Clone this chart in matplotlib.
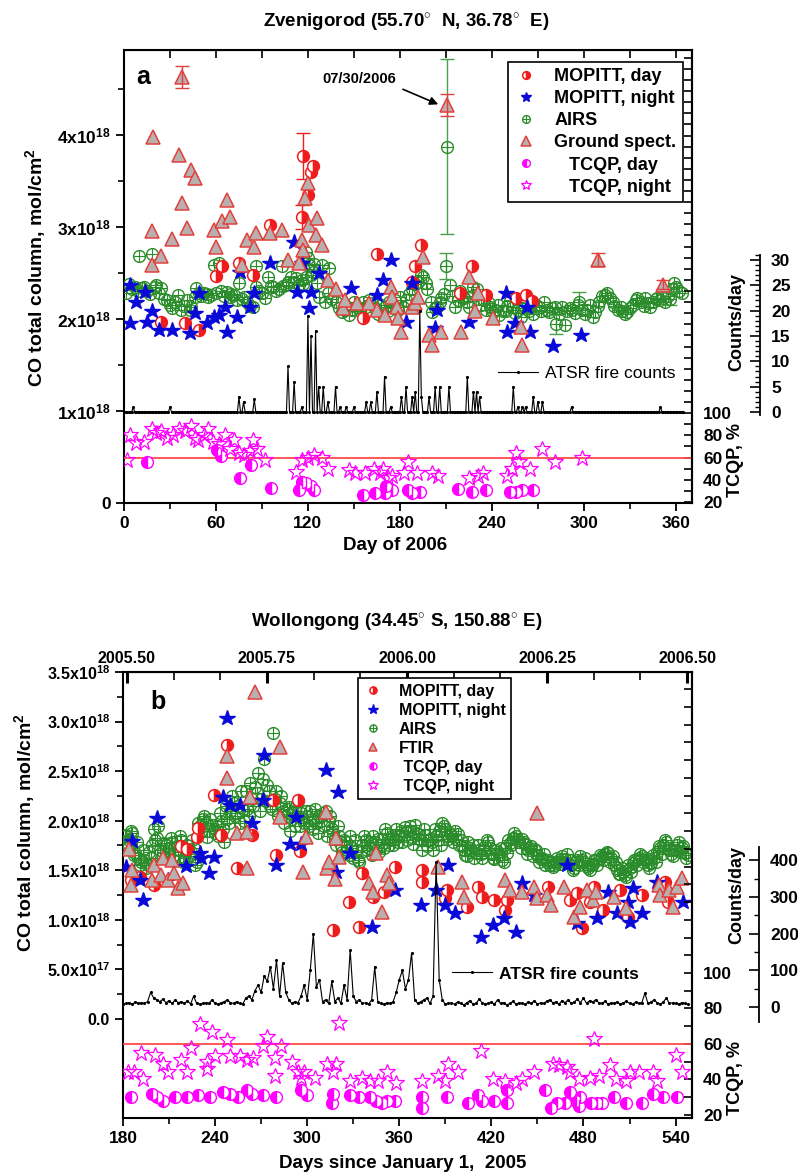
import numpy as np
import matplotlib
matplotlib.use('Agg')
import matplotlib.pyplot as plt
from matplotlib.ticker import FixedLocator, MultipleLocator, FormatStrFormatter

plt.rcParams['font.family'] = ['Liberation Sans', 'DejaVu Sans']
plt.rcParams['font.weight'] = 'bold'
plt.rcParams['mathtext.fontset'] = 'custom'
plt.rcParams['mathtext.rm'] = 'Liberation Sans:bold'
plt.rcParams['mathtext.bf'] = 'Liberation Sans:bold'
plt.rcParams['mathtext.it'] = 'Liberation Sans:bold'
plt.rcParams['mathtext.default'] = 'rm'

# ---------------- panel a : Zvenigorod 2006 (CO in 1e18 mol/cm2) ----------------
gs_day = [18, 18, 19, 24, 31, 36, 38, 38, 41, 44, 46, 59, 60, 64, 67, 69, 77, 80, 85, 86,
          95, 103, 107, 114, 116, 117, 118, 120, 121, 125, 126, 129, 133, 138, 143, 144, 152, 160, 165, 170,
          174, 175, 178, 179, 181, 188, 190, 192, 195, 199, 201, 207, 211, 220, 225, 229, 231, 241, 259, 260,
          309, 352]
gs_val = [2.59, 2.95, 3.97, 2.68, 2.87, 3.78, 4.63, 3.26, 2.99, 3.62, 3.53, 2.97, 2.78, 3.06, 3.29, 3.11, 2.59, 2.86, 2.78, 2.93,
          2.93, 2.97, 2.64, 2.61, 2.86, 2.75, 3.31, 3.48, 3.02, 2.91, 3.10, 2.80, 2.42, 2.32, 2.12, 2.21, 2.17, 2.17, 2.10, 2.04,
          2.35, 2.24, 2.13, 2.01, 1.86, 2.13, 2.17, 2.24, 2.67, 1.83, 1.72, 1.86, 4.32, 1.86, 2.45, 2.08, 2.28, 2.01, 1.91, 1.72,
          2.64, 2.37]
gs_err_day = [38, 211, 309, 352]
gs_err_val = [4.63, 4.32, 2.64, 2.37]
gs_err = [0.12, 0.12, 0.07, 0.05]

md_day = [24, 40, 49, 60, 64, 75, 84, 95, 116, 117, 120, 122, 123, 156, 165, 188, 190, 194, 219, 227, 236, 256, 262, 266]
md_val = [1.97, 1.96, 1.88, 2.47, 2.57, 2.61, 2.48, 3.02, 3.11, 3.77, 3.34, 3.60, 3.66, 2.01, 2.70, 2.40, 2.57, 2.80,
          2.28, 2.57, 2.26, 2.23, 2.26, 2.19]
md_err_day = [117, 116]
md_err_val = [3.77, 3.11]
md_err = [0.25, 0.13]

mn_day = [4, 4, 8, 14, 15, 18, 23, 31, 43, 46, 49, 54, 59, 62, 66, 67, 74, 76, 82, 85,
          95, 111, 113, 116, 121, 122, 127, 148, 165, 169, 174, 184, 188, 203, 204, 225, 249, 250, 255, 263,
          265, 280, 298]
mn_val = [2.37, 1.96, 2.18, 2.29, 1.97, 2.08, 1.88, 1.88, 1.85, 2.06, 2.28, 1.96, 2.02, 2.04, 2.13, 1.86, 2.02, 2.51, 2.13, 2.28,
          2.61, 2.84, 2.29, 2.61, 2.12, 2.29, 2.50, 2.34, 2.26, 2.42, 2.64, 1.97, 2.39, 1.90, 2.10, 1.97, 2.28, 1.86, 1.96, 2.13,
          1.86, 1.70, 1.83]

airs_day = [1, 3, 5, 7, 9, 10, 12, 13, 15, 17,
            18, 20, 21, 23, 24, 26, 28, 30, 31, 33,
            35, 37, 39, 41, 43, 44, 46, 47, 49, 50,
            52, 54, 55, 57, 59, 60, 62, 63, 65, 67,
            69, 70, 72, 74, 75, 77, 78, 80, 82, 84,
            86, 86, 88, 90, 92, 94, 96, 97, 99, 101,
            103, 104, 106, 107, 109, 111, 112, 114, 116, 117,
            119, 119, 120, 121, 122, 123, 124, 126, 127, 129,
            131, 133, 134, 136, 138, 140, 142, 144, 145, 147,
            149, 150, 152, 154, 156, 158, 160, 162, 164, 166,
            168, 170, 172, 173, 175, 177, 179, 180, 182, 184,
            186, 188, 190, 192, 194, 195, 197, 198, 200, 201,
            203, 204, 206, 207, 209, 213, 214, 216, 218, 219,
            221, 222, 224, 225, 227, 228, 230, 231, 233, 235,
            236, 238, 239, 241, 242, 244, 245, 247, 249, 250,
            252, 254, 255, 257, 259, 260, 262, 264, 265, 267,
            269, 271, 272, 274, 276, 277, 279, 281, 284, 286,
            288, 289, 291, 292, 294, 296, 299, 301, 302, 304,
            306, 307, 309, 310, 312, 314, 315, 317, 319, 320,
            322, 324, 325, 327, 328, 330, 332, 334, 335, 337,
            339, 340, 342, 343, 345, 347, 348, 350, 352, 353,
            355, 358, 359, 360, 362, 364]
airs_val = [2.28, 2.38, 2.32, 2.35, 2.30, 2.68, 2.34, 2.35, 2.30, 2.27,
            2.70, 2.35, 2.37, 2.28, 2.34, 2.22, 2.21, 2.15, 2.12, 2.18,
            2.26, 2.10, 2.14, 2.21, 2.10, 2.13, 2.24, 2.34, 2.28, 2.25,
            2.28, 2.27, 2.24, 2.26, 2.59, 2.28, 2.61, 2.30, 2.25, 2.29,
            2.24, 2.27, 2.26, 2.20, 2.39, 2.22, 2.24, 2.18, 2.14, 2.13,
            2.35, 2.57, 2.30, 2.28, 2.23, 2.45, 2.36, 2.35, 2.30, 2.32,
            2.57, 2.36, 2.37, 2.40, 2.45, 2.40, 2.44, 2.37, 2.42, 2.38,
            2.46, 2.73, 2.66, 2.59, 2.48, 2.51, 2.60, 2.39, 2.24, 2.59,
            2.18, 2.28, 2.55, 2.22, 2.18, 2.12, 2.07, 2.10, 2.14, 2.04,
            2.10, 2.18, 2.13, 2.08, 2.18, 2.13, 2.20, 2.17, 2.12, 2.05,
            2.15, 2.13, 2.08, 2.18, 2.13, 2.20, 2.10, 2.24, 2.13, 2.21,
            2.27, 2.32, 2.38, 2.40, 2.48, 2.46, 2.39, 2.32, 2.18, 2.07,
            2.12, 2.13, 2.18, 2.23, 2.27, 2.37, 2.25, 2.13, 2.20, 2.30,
            2.25, 2.23, 2.18, 2.13, 2.25, 2.35, 2.32, 2.22, 2.15, 2.20,
            2.10, 2.17, 2.13, 2.07, 2.10, 2.15, 2.04, 2.09, 2.08, 2.14,
            2.19, 2.13, 2.06, 2.10, 2.02, 2.12, 2.17, 2.08, 2.13, 2.05,
            2.15, 2.13, 2.08, 2.18, 2.10, 2.07, 2.12, 2.13, 2.05, 2.13,
            1.93, 2.08, 2.12, 2.10, 2.06, 2.15, 2.10, 2.05, 2.10, 2.15,
            2.02, 2.07, 2.14, 2.18, 2.25, 2.26, 2.28, 2.23, 2.18, 2.14,
            2.10, 2.13, 2.08, 2.05, 2.07, 2.12, 2.15, 2.20, 2.23, 2.18,
            2.14, 2.23, 2.17, 2.13, 2.18, 2.22, 2.23, 2.20, 2.23, 2.18,
            2.25, 2.32, 2.39, 2.35, 2.30, 2.28]
airs_err_day = [210, 211, 282, 297, 356]
airs_err_val = [2.57, 3.87, 1.94, 2.18, 2.22]
airs_err = [0.14, 0.95, 0.10, 0.11, 0.07]

# TCQP (%)
tn_day = [2, 4, 8, 13, 18, 21, 24, 28, 32, 36, 40, 44, 46, 48, 52, 55, 58, 62, 66, 69,
          72, 75, 78, 82, 84, 87, 92, 112, 116, 120, 124, 129, 133, 147, 151, 157, 163, 167, 169, 172,
          175, 183, 185, 191, 201, 205, 225, 231, 234, 250, 253, 256, 258, 265, 273, 281, 299]
tn_val = [58, 80, 73, 74, 86, 82, 84, 78, 80, 86, 84, 88, 78, 76, 80, 86, 74, 72, 80, 68,
          76, 64, 62, 66, 76, 68, 58, 47, 58, 60, 62, 60, 50, 49, 46, 46, 50, 46, 50, 42,
          43, 46, 56, 46, 46, 43, 42, 43, 46, 43, 50, 64, 56, 50, 68, 56, 60]
td_day = [15, 61, 63, 76, 83, 96, 114, 116, 119, 122, 124, 156, 164, 170, 171, 175, 185, 188, 193, 218,
          227, 236, 252, 256, 260, 267]
td_val = [56, 67, 61, 42, 53, 33, 31, 38, 37, 34, 31, 26, 28, 28, 34, 31, 31, 28, 29, 32,
          29, 31, 29, 29, 31, 31]

# ATSR fire counts (counts/day), days with fires; all other days are zero
fa_day = [6, 30, 75, 78, 85, 107, 111, 116, 120, 122, 125, 127, 130, 133, 138, 141, 145, 150, 158, 161,
          165, 170, 174, 181, 184, 188, 190, 193, 194, 199, 203, 206, 212, 224, 228, 230, 232, 254, 257, 260,
          262, 267, 270, 273, 292, 350]
fa_cnt = [1, 1, 3, 2, 2.5, 9, 6, 1, 19, 15, 16, 5, 5, 2, 5, 1, 1, 1, 2, 2,
          4, 7, 1, 3, 5, 3, 4, 20, 3, 3, 5, 5, 5, 7, 4, 4, 3, 5, 1, 1,
          1, 3, 2, 2, 1, 1]

# ---------------- panel b : Wollongong, days since 1 Jan 2005 ----------------
ft_day = [184, 185, 186, 199, 200, 205, 206, 209, 212, 213, 216, 219, 248, 248, 254, 261, 261, 263, 266, 282,
          282, 297, 299, 312, 313, 314, 318, 319, 321, 340, 343, 345, 349, 352, 353, 385, 401, 402, 429, 432,
          440, 448, 450, 450, 456, 459, 467, 474, 478, 482, 486, 488, 500, 508, 529, 530, 536, 538, 541, 544]
ft_val = [1.71, 1.35, 1.50, 1.40, 1.55, 1.45, 1.62, 1.40, 1.60, 1.47, 1.32, 1.37, 2.65, 2.43, 1.88, 1.89, 1.52, 2.24, 3.30, 2.74,
          2.04, 1.48, 1.84, 2.09, 1.52, 1.58, 1.41, 1.83, 1.63, 1.37, 1.28, 1.67, 1.08, 1.45, 1.37, 1.53, 1.38, 1.23, 1.40, 1.30,
          1.28, 1.33, 2.08, 1.22, 1.25, 1.15, 1.33, 1.03, 1.13, 1.30, 1.20, 1.28, 1.23, 1.12, 1.35, 1.25, 1.30, 1.13, 1.33, 1.42]
mdb_day = [185, 191, 200, 218, 222, 228, 229, 239, 244, 248, 254, 264, 278, 280, 294, 295, 317, 327, 334, 336,
           343, 350, 357, 375, 375, 390, 391, 404, 411, 414, 422, 429, 430, 457, 471, 476, 479, 484, 487, 493,
           504, 509, 518, 533, 535]
mdb_val = [1.40, 1.43, 1.35, 1.74, 1.71, 1.84, 1.93, 2.26, 1.86, 2.76, 1.52, 1.86, 2.21, 1.65, 2.21, 1.69, 0.90, 1.18, 0.93, 1.47,
           1.23, 1.28, 1.53, 1.50, 1.38, 1.22, 1.30, 1.13, 1.33, 1.23, 1.20, 1.10, 1.20, 1.33, 1.20, 1.27, 0.92, 1.18, 1.33, 1.10,
           1.30, 1.03, 1.25, 1.38, 1.18]
mnb_day = [182, 186, 191, 193, 202, 209, 221, 230, 231, 236, 239, 245, 248, 250, 256, 264, 271, 272, 280, 289,
           293, 296, 312, 319, 320, 328, 342, 357, 374, 384, 390, 392, 396, 413, 421, 428, 436, 440, 448, 469,
           476, 489, 496, 502, 509, 510, 512, 518, 528, 545]
mnb_val = [1.53, 1.79, 1.40, 1.20, 2.03, 1.40, 1.54, 1.67, 1.62, 1.47, 1.63, 2.24, 3.04, 2.16, 2.16, 1.98, 2.21, 2.66, 1.55, 1.76,
           2.04, 1.76, 2.51, 1.48, 2.29, 1.67, 0.93, 1.30, 1.15, 1.30, 1.15, 1.55, 1.07, 0.83, 0.95, 1.02, 0.88, 1.37, 1.25, 1.55,
           0.97, 1.02, 1.28, 1.07, 1.18, 0.98, 1.32, 1.07, 1.38, 1.18]
# AIRS, even days
airsb_day_even = list(range(180, 549, 2))
airsb_val_even = [1.78, 1.86, 1.80, 1.88, 1.67, 1.62, 1.58, 1.60, 1.55, 1.62,
                  1.92, 1.83, 1.70, 1.68, 1.75, 1.72, 1.78, 1.65, 1.70, 1.80,
                  1.62, 1.75, 1.68, 1.72, 1.58, 1.95, 2.02, 1.98, 1.90, 1.96,
                  1.88, 1.85, 2.00, 1.78, 2.02, 2.10, 2.18, 2.08, 1.98, 2.12,
                  2.30, 2.05, 2.22, 2.34, 2.48, 2.22, 2.62, 2.36, 2.15, 2.88,
                  2.30, 2.18, 2.10, 2.05, 2.14, 2.02, 1.95, 2.20, 2.08, 1.98,
                  2.05, 2.10, 1.92, 1.98, 2.05, 2.08, 2.10, 2.00, 1.92, 1.82,
                  1.95, 1.75, 1.80, 1.70, 1.85, 1.62, 1.70, 1.58, 1.75, 1.80,
                  1.72, 1.65, 1.78, 1.82, 1.75, 1.72, 1.88, 1.80, 1.75, 1.92,
                  1.85, 1.78, 1.94, 1.90, 1.84, 1.96, 1.87, 1.80, 1.92, 1.74,
                  1.82, 1.70, 1.85, 1.90, 1.98, 1.92, 1.81, 1.86, 1.90, 1.87,
                  1.80, 1.70, 1.64, 1.72, 1.75, 1.67, 1.70, 1.62, 1.74, 1.78,
                  1.66, 1.61, 1.68, 1.72, 1.58, 1.67, 1.77, 1.83, 1.85, 1.78,
                  1.81, 1.76, 1.70, 1.74, 1.71, 1.65, 1.61, 1.66, 1.58, 1.55,
                  1.53, 1.58, 1.60, 1.64, 1.61, 1.57, 1.55, 1.52, 1.60, 1.64,
                  1.58, 1.54, 1.50, 1.56, 1.60, 1.61, 1.64, 1.66, 1.67, 1.62,
                  1.55, 1.50, 1.46, 1.48, 1.43, 1.52, 1.57, 1.60, 1.62, 1.64,
                  1.60, 1.55, 1.57, 1.62, 1.68, 1.72, 1.75, 1.78, 1.70, 1.64,
                  1.70, 1.78, 1.72, 1.67, 1.65]
# AIRS, odd days
airsb_day_odd = list(range(181, 548, 2))
airsb_val_odd = [1.85, 1.72, 1.90, 1.65, 1.78, 1.55, 1.70, 1.52, 1.68, 1.75,
                 1.80, 1.95, 1.62, 1.77, 1.66, 1.83, 1.60, 1.74, 1.85, 1.58,
                 1.70, 1.64, 1.80, 1.55, 1.98, 1.90, 2.05, 1.84, 2.02, 1.92,
                 1.95, 2.08, 1.92, 2.15, 1.98, 2.25, 2.05, 2.15, 2.30, 2.00,
                 2.12, 2.38, 2.15, 2.28, 2.10, 2.42, 2.20, 2.30, 2.12, 2.22,
                 2.05, 2.25, 1.98, 2.12, 1.90, 2.08, 2.15, 1.95, 2.02, 2.10,
                 1.95, 2.02, 2.12, 1.88, 2.00, 1.95, 1.85, 2.05, 1.88, 1.75,
                 1.85, 1.68, 1.78, 1.65, 1.72, 1.80, 1.60, 1.68, 1.85, 1.70,
                 1.78, 1.85, 1.70, 1.68, 1.82, 1.92, 1.75, 1.85, 1.82, 1.78,
                 1.90, 1.85, 1.80, 1.95, 1.76, 1.88, 1.82, 1.70, 1.86, 1.80,
                 1.78, 1.92, 1.80, 1.75, 1.95, 1.85, 1.88, 1.78, 1.82, 1.75,
                 1.74, 1.65, 1.78, 1.70, 1.62, 1.75, 1.66, 1.70, 1.80, 1.72,
                 1.62, 1.70, 1.65, 1.60, 1.72, 1.80, 1.75, 1.88, 1.80, 1.72,
                 1.78, 1.66, 1.72, 1.64, 1.70, 1.58, 1.62, 1.55, 1.60, 1.58,
                 1.55, 1.62, 1.56, 1.58, 1.66, 1.60, 1.50, 1.58, 1.55, 1.60,
                 1.62, 1.52, 1.55, 1.60, 1.55, 1.65, 1.60, 1.68, 1.58, 1.64,
                 1.58, 1.46, 1.52, 1.45, 1.55, 1.48, 1.60, 1.55, 1.66, 1.58,
                 1.62, 1.52, 1.65, 1.58, 1.74, 1.66, 1.80, 1.72, 1.66, 1.70,
                 1.75, 1.68, 1.74, 1.62]
tnb_day = [183, 187, 192, 193, 201, 206, 209, 218, 222, 224, 230, 235, 235, 238, 240, 248, 250, 256, 261, 265,
           271, 274, 279, 279, 283, 290, 294, 296, 298, 305, 313, 317, 319, 321, 328, 336, 341, 346, 352, 358,
           375, 385, 390, 392, 398, 413, 421, 429, 436, 440, 448, 460, 464, 469, 471, 477, 484, 487, 490, 497,
           501, 508, 510, 516, 525, 528, 540, 544]
tnb_val = [44, 44, 55, 40, 54, 49, 44, 51, 44, 58, 71, 50, 46, 67, 53, 62, 53, 53, 51, 52,
           59, 64, 52, 42, 59, 50, 44, 41, 44, 41, 49, 44, 49, 72, 39, 41, 39, 39, 44, 38,
           39, 42, 39, 49, 44, 56, 40, 39, 38, 40, 44, 49, 48, 47, 44, 40, 41, 63, 42, 48,
           40, 39, 44, 44, 44, 39, 54, 44]
tdb_day = [185, 199, 202, 206, 214, 222, 229, 237, 245, 250, 255, 261, 264, 271, 280, 296, 300, 316, 317, 328,
           334, 341, 345, 349, 352, 357, 375, 375, 391, 405, 411, 414, 422, 430, 430, 455, 459, 463, 468, 471,
           475, 477, 478, 485, 489, 492, 500, 508, 518, 525, 532, 541]
tdb_val = [30, 32, 30, 28, 30, 30, 31, 30, 33, 32, 30, 34, 32, 31, 30, 34, 31, 27, 32, 31,
           30, 30, 28, 27, 28, 28, 30, 24, 30, 27, 31, 28, 28, 27, 34, 34, 24, 27, 27, 33,
           28, 25, 30, 27, 27, 27, 30, 27, 27, 32, 30, 30]
fb_day = list(range(180, 549, 2))
fb_cnt = [8, 10, 12, 8, 14, 10, 12, 10, 15, 40,
          25, 20, 15, 22, 12, 18, 10, 20, 12, 15,
          10, 18, 8, 30, 10, 8, 10, 12, 10, 20,
          10, 8, 12, 15, 20, 12, 10, 15, 10, 8,
          25, 30, 20, 45, 60, 40, 85, 70, 110, 50,
          128, 30, 120, 40, 20, 10, 15, 12, 30, 60,
          20, 100, 200, 55, 75, 15, 20, 10, 70, 15,
          25, 10, 60, 20, 155, 30, 15, 20, 10, 12,
          8, 20, 110, 15, 10, 8, 12, 10, 15, 40,
          75, 100, 50, 75, 147, 20, 10, 15, 20, 25,
          10, 30, 395, 75, 20, 8, 10, 12, 8, 14,
          10, 6, 12, 18, 8, 10, 22, 12, 8, 10,
          14, 8, 20, 10, 12, 6, 10, 16, 8, 12,
          10, 8, 14, 10, 18, 8, 12, 10, 16, 20,
          12, 14, 8, 18, 12, 20, 10, 14, 22, 12,
          25, 10, 18, 14, 20, 12, 10, 16, 8, 12,
          10, 14, 8, 12, 16, 10, 8, 14, 10, 12,
          38, 10, 14, 20, 12, 8, 14, 25, 10, 12,
          10, 8, 12, 10, 8]

E18 = 1e18
RED = '#ee1c1c'
BLUE = '#0a0ad8'
GREEN = '#2a8c2a'
MAG = '#ff00ff'
TRI_FACE = '#b9afaf'
TRI_EDGE = '#e2403c'

W, H = 798, 1175
fig = plt.figure(figsize=(W / 100, H / 100), dpi=100)


def fx(x):
    return x / W


def fy(y):
    return 1 - y / H


def style_main(ax):
    for s in ax.spines.values():
        s.set_linewidth(1.5)
    ax.tick_params(axis='both', which='major', direction='out', length=6, width=1.3, labelsize=12.5)
    ax.tick_params(axis='both', which='minor', direction='out', length=4, width=1.2)
    ax.tick_params(axis='y', right=False, which='both')
    ax.tick_params(axis='x', top=False, which='both')


def draw_series(ax, tq, cn, d):
    h_md, = ax.plot(np.array(d['md_day']), np.array(d['md_val']) * E18, 'o', ms=8.5, fillstyle='right',
                    mfc=RED, mfcalt='white', mec=RED, mew=1.1, ls='none', zorder=4)
    h_mn, = ax.plot(np.array(d['mn_day']), np.array(d['mn_val']) * E18, '*', ms=11.5, color=BLUE,
                    mec=BLUE, ls='none', zorder=4)
    h_ac, = ax.plot(np.array(d['airs_day']), np.array(d['airs_val']) * E18, 'o', ms=8.5, mfc='none',
                    mec=GREEN, mew=1.0, ls='none', zorder=3)
    h_ap, = ax.plot(np.array(d['airs_day']), np.array(d['airs_val']) * E18, '+', ms=8.5, color=GREEN,
                    mew=0.8, ls='none', zorder=3)
    h_gs, = ax.plot(np.array(d['gs_day']), np.array(d['gs_val']) * E18, '^', ms=10, mfc=TRI_FACE,
                    mec=TRI_EDGE, mew=1.1, ls='none', zorder=5)
    h_td, = tq.plot(d['td_day'], d['td_val'], 'o', ms=8.5, fillstyle='left', mfc=MAG, mfcalt='white',
                    mec=MAG, mew=1.0, ls='none', zorder=4)
    h_tn, = tq.plot(d['tn_day'], d['tn_val'], '*', ms=12, mfc='none', mec=MAG, mew=0.9, ls='none', zorder=4)
    tq.axhline(60, color='#ff4a4a', lw=1.3, zorder=2)
    h_f, = cn.plot(d['f_day'], d['f_cnt'], color='k', lw=0.8, marker='.', ms=2.5, zorder=2)
    return h_md, h_mn, (h_ac, h_ap), h_gs, h_td, h_tn, h_f


def make_twins(ax, tq_lim, tq_top, cn_lim, cn_pos, cn_bounds, cn_major, cn_minor):
    tq = ax.twinx()
    tq.set_ylim(*tq_lim)
    for k in ('left', 'top', 'bottom'):
        tq.spines[k].set_visible(False)
    tq.spines['right'].set_linewidth(1.5)
    tq.yaxis.set_major_locator(FixedLocator([20, 40, 60, 80, 100]))
    tq.yaxis.set_minor_locator(FixedLocator([v for v in range(30, tq_top, 10) if v not in (40, 60, 80, 100)]))
    tq.tick_params(axis='y', which='both', direction='in', length=6, width=1.2, labelsize=12.5, pad=8)
    cn = ax.twinx()
    cn.set_ylim(*cn_lim)
    for k in ('left', 'top', 'bottom'):
        cn.spines[k].set_visible(False)
    cn.spines['right'].set_position(('axes', cn_pos))
    cn.spines['right'].set_bounds(*cn_bounds)
    cn.spines['right'].set_linewidth(1.3)
    majors = np.arange(0, cn_bounds[1] + 1e-9, cn_major)
    minors = [v for v in np.arange(0, cn_bounds[1] + 1e-9, cn_minor) if v % cn_major != 0]
    cn.yaxis.set_major_locator(FixedLocator(majors))
    cn.yaxis.set_minor_locator(FixedLocator(minors))
    cn.yaxis.set_major_formatter(FormatStrFormatter('%d'))
    cn.tick_params(axis='y', which='major', direction='in', length=7, width=1.2, labelsize=12.5, pad=8)
    cn.tick_params(axis='y', which='minor', direction='in', length=3.5, width=1.0)
    return tq, cn


# ================= panel a =================
ax = fig.add_axes([fx(124), fy(503), 568 / W, 453 / H])
ax.set_xlim(0, 370.6)
ax.set_ylim(0, 4.92 * E18)
style_main(ax)
ax.set_xticks(range(0, 361, 60))
ax.xaxis.set_minor_locator(MultipleLocator(30))
ax.set_yticks([0, 1 * E18, 2 * E18, 3 * E18, 4 * E18])
ax.set_yticklabels(['0', '1x10$^{18}$', '2x10$^{18}$', '3x10$^{18}$', '4x10$^{18}$'])
ax.yaxis.set_minor_locator(FixedLocator([1.5 * E18, 2.5 * E18, 3.5 * E18, 4.5 * E18]))
sec = ax.secondary_xaxis('top')
sec.set_xticks(range(0, 361, 30))
sec.tick_params(direction='in', length=6, width=1.2, labeltop=False)

tq, cn = make_twins(ax, (19.1, 427), 421, (-17.95, 71.4), 636 / 568, (-0.6, 31), 5, 1)

fa_days = np.arange(0, 366)
fa_counts = np.zeros(366)
fa_counts[fa_day] = fa_cnt
da = dict(md_day=md_day, md_val=md_val, mn_day=mn_day, mn_val=mn_val, airs_day=airs_day, airs_val=airs_val,
          gs_day=gs_day, gs_val=gs_val, td_day=td_day, td_val=td_val, tn_day=tn_day, tn_val=tn_val,
          f_day=fa_days, f_cnt=fa_counts)
handles = draw_series(ax, tq, cn, da)
ax.errorbar(airs_err_day, np.array(airs_err_val) * E18, yerr=np.array(airs_err) * E18, fmt='o', ms=8.5,
            mfc='none', mec=GREEN, ecolor='#4aa04a', elinewidth=1.0, capsize=5, zorder=3)
ax.plot(airs_err_day, np.array(airs_err_val) * E18, '+', ms=8.5, color=GREEN, mew=0.8, zorder=3)
ax.errorbar(gs_err_day, np.array(gs_err_val) * E18, yerr=np.array(gs_err) * E18, fmt='none',
            ecolor=TRI_EDGE, elinewidth=1.0, capsize=5, zorder=5)
ax.errorbar(md_err_day, np.array(md_err_val) * E18, yerr=np.array(md_err) * E18, fmt='none',
            ecolor=RED, elinewidth=1.0, capsize=5, zorder=4)

leg = cn.legend(handles[:6], ['MOPITT, day', 'MOPITT, night', 'AIRS', 'Ground spect.',
                              '   TCQP, day', '   TCQP, night'],
                loc='upper right', bbox_to_anchor=(0.984, 0.9735), borderaxespad=0, fancybox=False,
                edgecolor='black', framealpha=1, fontsize=13, markerscale=0.65, handlelength=1.2,
                labelspacing=0.28, borderpad=0.35, handletextpad=1.0)
leg.get_frame().set_linewidth(1.2)
cn.add_artist(leg)
cn.legend([handles[6]], ['ATSR fire counts'], loc='center left',
          bbox_to_anchor=((498 - 124) / 568, (503 - 373) / 453), frameon=False, borderaxespad=0, borderpad=0,
          handlelength=2.3, handletextpad=0.4, prop={'size': 12.5, 'weight': 'normal'})

ax.text((143 - 124) / 568, (503 - 77) / 453, 'a', transform=ax.transAxes, fontsize=18, ha='center', va='center')
ax.annotate('07/30/2006', xy=(205, 4.33 * E18), xytext=(153.6, 4.6 * E18), ha='center', va='center',
            fontsize=10.5, arrowprops=dict(arrowstyle='-|>', color='k', lw=1.2, relpos=(1.0, 0.0),
                                           shrinkA=3, shrinkB=0, mutation_scale=12))

fig.text(fx(406), fy(23), 'Zvenigorod (55.70$^{\\circ}$  N, 36.78$^{\\circ}$  E)', ha='center', va='center',
         fontsize=13.5)
fig.text(fx(36), fy(268), 'CO total column, mol/cm$^{2}$', rotation=90, ha='center', va='center', fontsize=14)
fig.text(fx(395), fy(545), 'Day of 2006', ha='center', va='center', fontsize=13.5)
fig.text(fx(737), fy(322), 'Counts/day', rotation=90, ha='center', va='center', fontsize=13)
fig.text(fx(735), fy(460), 'TCQP, %', rotation=90, ha='center', va='center', fontsize=13)

# ================= panel b =================
bx = fig.add_axes([fx(123), fy(1118), 569 / W, 446 / H])
bx.set_xlim(180, 550.7)
bx.set_ylim(-1.0 * E18, 3.5 * E18)
style_main(bx)
bx.set_xticks(range(180, 541, 60))
bx.xaxis.set_minor_locator(MultipleLocator(30))
b_yt = [0, 0.5, 1.0, 1.5, 2.0, 2.5, 3.0, 3.5]
bx.set_yticks([v * E18 for v in b_yt])
bx.set_yticklabels(['0.0', '5.0x10$^{17}$', '1.0x10$^{18}$', '1.5x10$^{18}$', '2.0x10$^{18}$',
                    '2.5x10$^{18}$', '3.0x10$^{18}$', '3.5x10$^{18}$'])
bx.yaxis.set_minor_locator(FixedLocator([v * E18 for v in np.arange(0.25, 3.5, 0.5)]))
bx.tick_params(axis='y', labelsize=11.5)
secb = bx.secondary_xaxis('top', functions=(lambda d: 2005 + d / 365.0, lambda y: (y - 2005) * 365.0))
secb.set_xticks([2005.5, 2005.75, 2006.0, 2006.25, 2006.5])
secb.xaxis.set_major_formatter(FormatStrFormatter('%.2f'))
secb.xaxis.set_minor_locator(FixedLocator([2005.5 + k / 12.0 for k in range(13)]))
secb.tick_params(which='major', direction='in', length=8, width=2.2, labelsize=11.5, pad=4)
secb.tick_params(which='minor', direction='in', length=6, width=1.2)

tqb, cnb = make_twins(bx, (18.3, 269.6), 261, (-302, 913), 636 / 569, (-40, 435), 100, 50)

db = dict(md_day=mdb_day, md_val=mdb_val, mn_day=mnb_day, mn_val=mnb_val,
          airs_day=airsb_day_even + airsb_day_odd, airs_val=airsb_val_even + airsb_val_odd,
          gs_day=ft_day, gs_val=ft_val, td_day=tdb_day, td_val=tdb_val,
          tn_day=tnb_day, tn_val=tnb_val, f_day=fb_day, f_cnt=fb_cnt)
hb = draw_series(bx, tqb, cnb, db)
legb = cnb.legend(hb[:6], ['MOPITT, day', 'MOPITT, night', 'AIRS', 'FTIR', ' TCQP, day', ' TCQP, night'],
                  loc='upper left', bbox_to_anchor=(0.413, 0.9865), borderaxespad=0, fancybox=False,
                  edgecolor='black', framealpha=1, fontsize=11.5, markerscale=0.6, handlelength=1.2,
                  labelspacing=0.25, borderpad=0.35, handletextpad=1.0)
legb.get_frame().set_linewidth(1.2)
cnb.add_artist(legb)
cnb.legend([hb[6]], ['ATSR fire counts'], loc='center left',
           bbox_to_anchor=((452 - 123) / 569, (1118 - 974) / 446), frameon=False, borderaxespad=0, borderpad=0,
           handlelength=2.3, handletextpad=0.4, prop={'size': 12.5, 'weight': 'bold'})

bx.text((158 - 123) / 569, (1118 - 702) / 446, 'b', transform=bx.transAxes, fontsize=18, ha='center',
        va='center')

fig.text(fx(397), fy(623), 'Wollongong (34.45$^{\\circ}$ S, 150.88$^{\\circ}$ E)', ha='center', va='center',
         fontsize=13.5)
fig.text(fx(25), fy(833), 'CO total column, mol/cm$^{2}$', rotation=90, ha='center', va='center', fontsize=14)
fig.text(fx(403), fy(1163), 'Days since January 1,  2005', ha='center', va='center', fontsize=13.5)
fig.text(fx(737), fy(895), 'Counts/day', rotation=90, ha='center', va='center', fontsize=13)
fig.text(fx(735), fy(1078), 'TCQP, %', rotation=90, ha='center', va='center', fontsize=13)

fig.savefig('out.png', dpi=100)
